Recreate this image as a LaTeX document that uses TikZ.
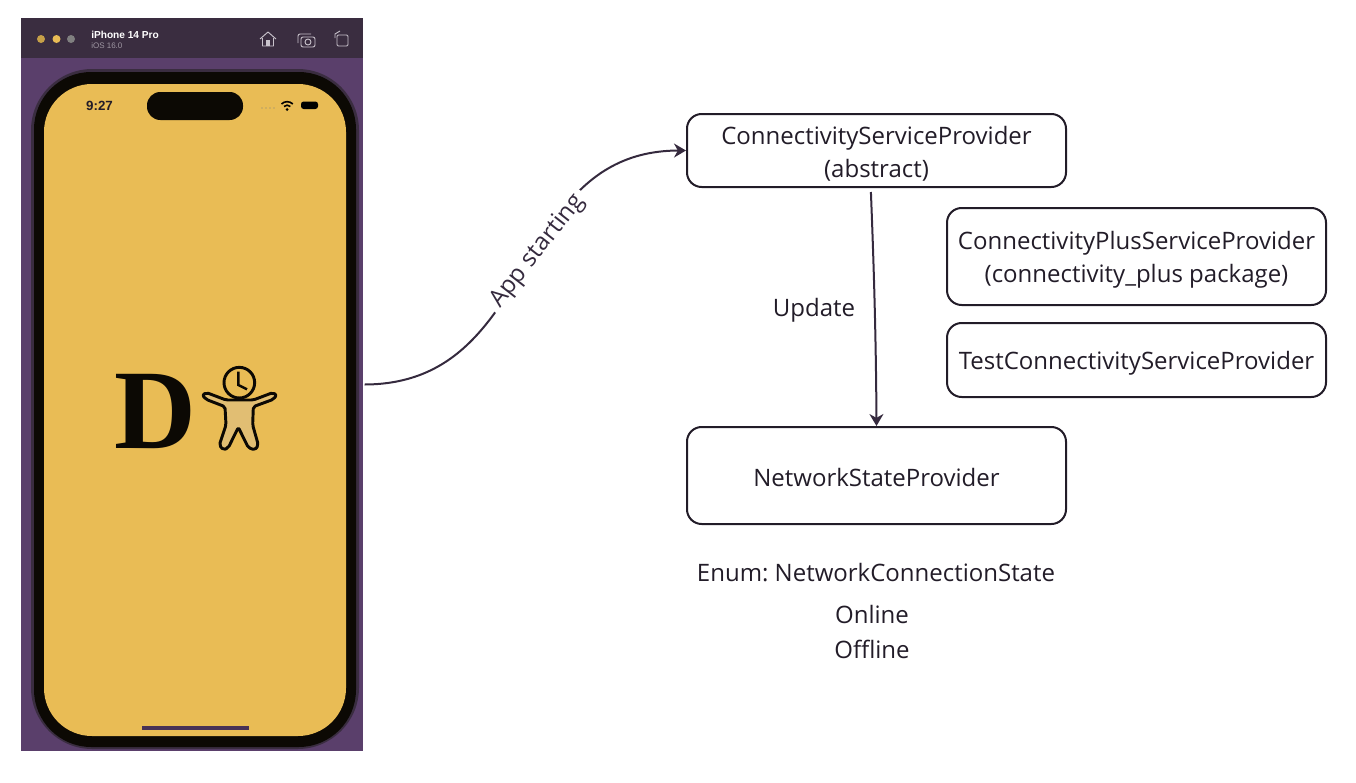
\documentclass[tikz,border=0pt]{standalone}
\usepackage{fontspec}
\setmainfont{Open Sans}
\newfontfamily\timesfont{Liberation Serif}
\newfontfamily\helvfont{Liberation Sans}
\usetikzlibrary{arrows.meta}
\frenchspacing
\definecolor{inkdark}{HTML}{221C28}
\definecolor{linedark}{HTML}{352A3E}
\definecolor{barcolor}{HTML}{3A2D40}
\definecolor{casecolor}{HTML}{5A3F6B}
\definecolor{screencolor}{HTML}{E9BC55}
\definecolor{iconcolor}{HTML}{C9C3CC}
\tikzstyle{provider} = [rectangle, draw=inkdark, line width=1.5pt, rounded corners=11pt, minimum width=284.25pt, text=inkdark, align=center, inner sep=0pt, font=\fontsize{18}{24.7}\selectfont]
\tikzstyle{caption} = [text=inkdark, inner sep=0pt, font=\fontsize{18}{24.7}\selectfont]
\tikzstyle{arrow} = [line width=1.5pt,draw=linedark,->,>={Stealth[length=9pt,width=10.5pt]}]
\tikzstyle{icon} = [draw=iconcolor, line width=0.7pt, line join=round]

\begin{document}
\begin{tikzpicture}[x=0.75pt,y=-0.75pt]
\useasboundingbox (0,0) rectangle (1356,782);

\node (phone) [rectangle, fill=casecolor, minimum width=256.5pt, minimum height=549.75pt, inner sep=0pt] at (192,384.5) {};
\fill [barcolor] (21,18) rectangle (363,58);
\fill [barcolor, rounded corners=46pt] (31,69) rectangle (359,749);
\fill [black!95!screencolor, rounded corners=43pt] (34,72) rectangle (356,747);
\fill [screencolor, rounded corners=36pt] (44,84) rectangle (346,736);

\fill [color=screencolor!85!black] (41,39) circle [radius=4];
\fill [screencolor] (56.5,39) circle [radius=4];
\fill [color=gray] (71,39) circle [radius=4];
\node (device) [anchor=west, inner sep=0pt, text=white, font=\helvfont\bfseries\fontsize{7.6}{9}\selectfont] at (91,34.5) {iPhone 14 Pro};
\node (system) [anchor=west, inner sep=0pt, text=iconcolor!70!barcolor, font=\helvfont\fontsize{6}{8}\selectfont] at (91,45.5) {iOS 16.0};

\draw [icon] (260,39) -- (268,32) -- (276,39) (262.5,38) -- (262.5,46) -- (273.5,46) -- (273.5,38);
\fill [iconcolor] (266,40) rectangle (270,46);
\draw [icon, rounded corners=1.5pt] (298,43) -- (298,34) -- (311,34);
\draw [icon, rounded corners=1.5pt] (301,37) rectangle (315,47);
\draw [icon] (308,42) circle [radius=3];
\draw [icon, rounded corners=1pt] (337,35) rectangle (348,46);
\draw [icon] (335,38) -- (335,34) -- (340,31);

\fill [black!95!screencolor, rounded corners=10pt] (147,92) rectangle (243,120);
\node (clock) [inner sep=0pt, text=inkdark, font=\helvfont\bfseries\fontsize{10}{11}\selectfont] at (99.5,106) {9:27};
\foreach \dotx in {262,266,270,274}
  \fill [color=gray] (\dotx,108) circle [radius=0.6];
\draw [black, line width=1.2pt] (281.5,104) arc [start angle=-135, end angle=-45, radius=8];
\draw [black, line width=1.2pt] (284,106.5) arc [start angle=-135, end angle=-45, radius=4.5];
\fill [black] (287,109.5) circle [radius=1.5];
\fill [black, rounded corners=2pt] (301,101.5) rectangle (318,109);
\fill [color=casecolor!80!black] (142,726) rectangle (249,730);

\node (logo) [inner sep=0pt, text=black!95!screencolor, font=\timesfont\bfseries\fontsize{85}{90}\selectfont] at (155,411) {D};
\begin{scope}[shift={(100,350)},x=0.25pt,y=-0.25pt]
\fill [color=iconcolor!25!screencolor, draw=black!95!screencolor, line width=2.2pt, line join=round, rounded corners=1.5pt] (378,150) -- (320,128) -- (307,135) -- (318,148) -- (375,170) -- (378,225) -- (358,285) -- (370,300) -- (385,293) -- (415,232) -- (445,293) -- (465,300) -- (475,285) -- (458,225) -- (460,170) -- (520,148) -- (530,135) -- (518,128) -- (460,150) -- cycle;
\fill [screencolor, draw=black!95!screencolor, line width=2.2pt] (418,98) circle [radius=46];
\draw [black!95!screencolor, line width=1.8pt] (415,65) -- (415,105) -- (441,118);
\end{scope}

\node (conn) [provider, minimum height=54.75pt, text height=42.9pt] at (876.5,150.5) {ConnectivityServiceProvider\\(abstract)};
\node (plus) [provider, minimum height=72.75pt, text height=43.6pt] at (1136.5,256.5) {ConnectivityPlusServiceProvider\\(connectivity\_plus package)};
\node (test) [provider, minimum height=55.5pt, text height=18.2pt] at (1136.5,360) {TestConnectivityServiceProvider};
\node (state) [provider, minimum height=72.75pt, text height=16.7pt] at (876.5,475.5) {NetworkStateProvider};

\node (update) [caption] at (814,310) {Update};
\node (enum) [caption] at (876,573) {Enum: NetworkConnectionState};
\node (online) [caption] at (872,614.5) {Online};
\node (offline) [caption] at (872,649.5) {Offline};

\draw [arrow] ([xshift=1pt]phone.east) .. controls (540,384) and (510,151) .. node [pos=0.55, rotate=52, yshift=-1.5pt, fill=white, inner xsep=4.5pt, inner ysep=2.5pt, text=linedark, font=\fontsize{18}{20}\selectfont] (starting) {App starting} (conn.west);
\draw [arrow] ([xshift=-4.2pt,yshift=-3pt]conn.south) .. controls (874,270) and (876,340) .. (state.north);

\end{tikzpicture}
\end{document}
